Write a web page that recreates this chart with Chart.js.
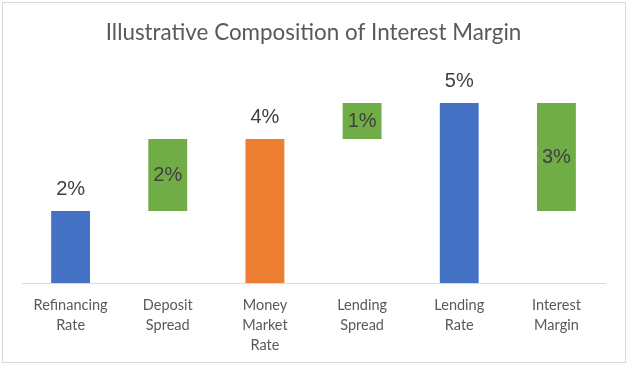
<!DOCTYPE html>
<html>
<head>
<meta charset="utf-8">
<script src="https://cdn.jsdelivr.net/npm/chart.js@4"></script>
<style>
  html, body { margin: 0; padding: 0; background: #fff; }
  #wrap { width: 630px; height: 367px; }
</style>
</head>
<body>
<div id="wrap"><canvas id="myChart" width="630" height="367"></canvas></div>
<script>
// waterfall steps, values in percent
const categories = [
  ['Refinancing', 'Rate'],
  ['Deposit', 'Spread'],
  ['Money', 'Market', 'Rate'],
  ['Lending', 'Spread'],
  ['Lending', 'Rate'],
  ['Interest', 'Margin']
]
const barStart = [0, 2, 0, 4, 0, 2]
const barEnd = [2, 4, 4, 5, 5, 5]
const barColors = ['#4472C4', '#70AD47', '#ED7D31', '#70AD47', '#4472C4', '#70AD47']

const labelFont = 'Lato, "Open Sans", sans-serif'

// frame + value labels
const extras = {
  id: 'extras',
  beforeDraw(chart) {
    const ctx = chart.ctx
    ctx.save()
    ctx.strokeStyle = '#d9d9d9'
    ctx.lineWidth = 1
    ctx.strokeRect(2.5, 2.5, 623, 360)
    ctx.restore()
  },
  afterDatasetsDraw(chart) {
    const ctx = chart.ctx
    const meta = chart.getDatasetMeta(0)
    ctx.save()
    ctx.font = '20px "Liberation Sans", Arial, sans-serif'
    ctx.fillStyle = '#404040'
    ctx.textAlign = 'center'
    ctx.textBaseline = 'middle'
    meta.data.forEach((bar, i) => {
      const txt = (barEnd[i] - barStart[i]) + '%'
      if (barStart[i] === 0) {
        ctx.fillText(txt, bar.x, bar.y - 21)
      } else {
        ctx.fillText(txt, bar.x, (bar.y + bar.base) / 2 + 1)
      }
    })
    ctx.restore()
  }
}

new Chart('myChart', {
  type: 'bar',
  data: {
    labels: categories,
    datasets: [{
      data: barStart.map((s, i) => [s, barEnd[i]]),
      backgroundColor: barColors,
      borderWidth: 0,
      barPercentage: 0.4,
      categoryPercentage: 1
    }]
  },
  options: {
    responsive: false,
    animation: false,
    layout: { padding: { left: 22, right: 25, top: 0, bottom: 0 } },
    plugins: {
      legend: { display: false },
      tooltip: { enabled: false },
      title: {
        display: true,
        text: 'Illustrative Composition of Interest Margin',
        color: '#595959',
        font: { family: labelFont, size: 22.4, weight: 'normal', lineHeight: 1.2 },
        padding: { top: 19, bottom: 21 }
      }
    },
    scales: {
      x: {
        grid: { drawOnChartArea: false, drawTicks: false },
        border: { display: true, color: '#d9d9d9', width: 1 },
        ticks: {
          color: '#595959',
          padding: 12,
          maxRotation: 0,
          autoSkip: false,
          font: { family: labelFont, size: 14.5, lineHeight: 1.38 }
        },
        afterFit(scale) { scale.height = 84 }
      },
      y: {
        display: false,
        min: 0,
        max: 6
      }
    }
  },
  plugins: [extras]
})
</script>
</body>
</html>
